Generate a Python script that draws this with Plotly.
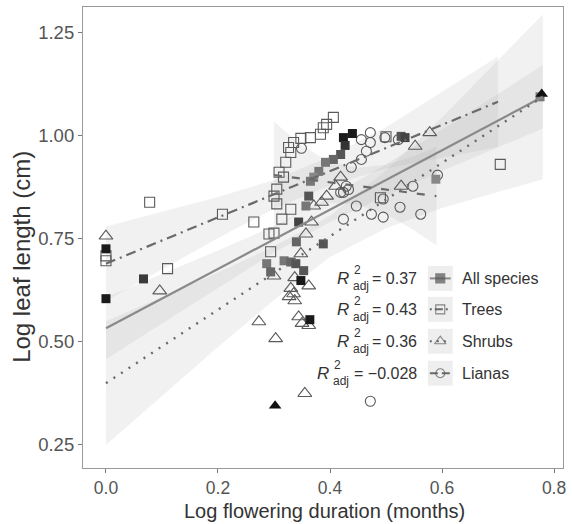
import plotly.graph_objects as go

# ---------------- data ----------------
trees_x = [0.0, 0.0, 0.078, 0.110, 0.208, 0.264, 0.294, 0.291, 0.300, 0.314, 0.330, 0.305,
           0.300, 0.305, 0.317, 0.309, 0.321, 0.330, 0.326, 0.335, 0.348, 0.365, 0.383,
           0.388, 0.394, 0.406, 0.500, 0.704, 0.490]
trees_y = [0.709, 0.697, 0.839, 0.678, 0.810, 0.791, 0.719, 0.762, 0.764, 0.798, 0.822, 0.835,
           0.854, 0.871, 0.900, 0.912, 0.936, 0.960, 0.972, 0.984, 0.994, 0.996, 1.004,
           1.020, 1.028, 1.045, 0.998, 0.931, 0.850]

shrubs_x = [0.0, 0.096, 0.273, 0.303, 0.355, 0.350, 0.344, 0.362, 0.330, 0.327, 0.337, 0.335,
            0.362, 0.337, 0.300, 0.348, 0.357, 0.367, 0.371, 0.385, 0.394, 0.410, 0.419,
            0.527, 0.552, 0.578]
shrubs_y = [0.757, 0.624, 0.549, 0.508, 0.375, 0.545, 0.561, 0.540, 0.630, 0.610, 0.600, 0.617,
            0.636, 0.656, 0.660, 0.714, 0.762, 0.791, 0.830, 0.839, 0.854, 0.878, 0.900,
            0.878, 0.975, 1.008]

lianas_x = [0.349, 0.472, 0.456, 0.472, 0.465, 0.456, 0.438, 0.429, 0.424, 0.419, 0.447, 0.424,
            0.474, 0.498, 0.522, 0.592, 0.548, 0.495, 0.525, 0.495, 0.562, 0.472, 0.433]
lianas_y = [0.970, 1.008, 0.991, 0.984, 0.963, 0.943, 0.924, 0.878, 0.863, 0.863, 0.830, 0.798,
            0.810, 0.996, 0.991, 0.905, 0.878, 0.847, 0.827, 0.803, 0.810, 0.356, 0.870]

filled_x = [0.0, 0.0, 0.067, 0.424, 0.440, 0.427, 0.419, 0.406, 0.392, 0.380, 0.371, 0.365,
            0.362, 0.357, 0.344, 0.340, 0.388, 0.318, 0.330, 0.339, 0.353, 0.287, 0.294,
            0.348, 0.364, 0.527, 0.534, 0.589, 0.775]
filled_y = [0.726, 0.605, 0.653, 0.996, 1.006, 0.977, 0.955, 0.943, 0.936, 0.914, 0.900, 0.890,
            0.854, 0.830, 0.791, 0.743, 0.738, 0.697, 0.694, 0.690, 0.673, 0.690, 0.670,
            0.649, 0.554, 0.999, 0.996, 0.895, 1.095]
filled_shade = ["#1a1a1a", "#1a1a1a", "#3a3a3a", "#1a1a1a", "#1a1a1a", "#333333", "#555555",
                "#666666", "#777777", "#777777", "#888888", "#777777", "#555555", "#777777",
                "#444444", "#666666", "#555555", "#777777", "#666666", "#555555", "#555555",
                "#777777", "#666666", "#1a1a1a", "#1a1a1a", "#555555", "#444444", "#888888",
                "#777777"]

black_tri_x = [0.302, 0.778]
black_tri_y = [0.345, 1.102]

# fitted lines (end points)
all_line_x, all_line_y = [0.0, 0.78], [0.533, 1.095]
trees_line_x, trees_line_y = [0.0, 0.70], [0.690, 1.083]
shrubs_line_x, shrubs_line_y = [0.0, 0.78], [0.400, 1.095]
lianas_line_x, lianas_line_y = [0.30, 0.59], [0.905, 0.854]

# confidence bands
all_band_x = [0.0, 0.1, 0.2, 0.3, 0.4, 0.5, 0.6, 0.7, 0.78]
all_band_lo = [0.458, 0.545, 0.632, 0.717, 0.791, 0.855, 0.915, 0.972, 1.018]
all_band_hi = [0.608, 0.665, 0.722, 0.781, 0.851, 0.931, 1.015, 1.102, 1.172]

trees_band_x = [0.0, 0.1, 0.2, 0.3, 0.4, 0.5, 0.6, 0.7]
trees_band_lo = [0.600, 0.676, 0.752, 0.823, 0.880, 0.921, 0.947, 0.973]
trees_band_hi = [0.780, 0.816, 0.852, 0.893, 0.950, 1.021, 1.107, 1.193]

shrubs_band_x = [0.0, 0.1, 0.2, 0.3, 0.4, 0.5, 0.6, 0.7, 0.78]
shrubs_band_lo = [0.250, 0.369, 0.488, 0.602, 0.706, 0.776, 0.825, 0.864, 0.895]
shrubs_band_hi = [0.550, 0.609, 0.668, 0.732, 0.806, 0.916, 1.045, 1.184, 1.295]

lianas_band_x = [0.30, 0.35, 0.40, 0.45, 0.50, 0.55, 0.59]
lianas_band_lo = [0.775, 0.816, 0.837, 0.833, 0.810, 0.771, 0.734]
lianas_band_hi = [1.035, 0.976, 0.937, 0.923, 0.930, 0.951, 0.974]

x_ticks = [0.0, 0.2, 0.4, 0.6, 0.8]
x_tick_text = ["0.0", "0.2", "0.4", "0.6", "0.8"]
y_ticks = [0.25, 0.50, 0.75, 1.00, 1.25]
y_tick_text = ["0.25", "0.50", "0.75", "1.00", "1.25"]

legend_names = ["All species", "Trees", "Shrubs", "Lianas"]
r2_values = ["= 0.37", "= 0.43", "= 0.36", "= \u22120.028"]

# ---------------- layout helpers ----------------
W, H = 572, 524
ML, MR, MT, MB = 83, 6, 6, 56
PW = W - ML - MR
PH = H - MT - MB


def px(xp):
    return (xp - ML) / PW


def py(yp):
    return (H - MB - yp) / PH


FONT = "Liberation Sans, Arial, sans-serif"
BAND = "rgba(160,160,160,0.15)"
fig = go.Figure()

# bands
for bx, lo, hi in [(all_band_x, all_band_lo, all_band_hi),
                   (trees_band_x, trees_band_lo, trees_band_hi),
                   (shrubs_band_x, shrubs_band_lo, shrubs_band_hi),
                   (lianas_band_x, lianas_band_lo, lianas_band_hi)]:
    fig.add_trace(go.Scatter(x=bx + bx[::-1], y=hi + lo[::-1], fill="toself",
                             fillcolor=BAND, line=dict(width=0), mode="lines",
                             hoverinfo="skip", showlegend=False))

# points
OUT = "#5a5a5a"
fig.add_trace(go.Scatter(x=trees_x, y=trees_y, mode="markers", showlegend=False,
                         marker=dict(symbol="square-open", size=10, color=OUT,
                                     line=dict(width=1.1, color=OUT))))
fig.add_trace(go.Scatter(x=shrubs_x, y=shrubs_y, mode="markers", showlegend=False,
                         marker=dict(symbol="triangle-up-open", size=12, color=OUT,
                                     line=dict(width=1.1, color=OUT))))
fig.add_trace(go.Scatter(x=lianas_x, y=lianas_y, mode="markers", showlegend=False,
                         marker=dict(symbol="circle-open", size=10, color=OUT,
                                     line=dict(width=1.1, color=OUT))))
fig.add_trace(go.Scatter(x=filled_x, y=filled_y, mode="markers", showlegend=False,
                         marker=dict(symbol="square", size=9, color=filled_shade,
                                     line=dict(width=0))))
fig.add_trace(go.Scatter(x=black_tri_x, y=black_tri_y, mode="markers", showlegend=False,
                         marker=dict(symbol="triangle-up", size=11, color="#111111",
                                     line=dict(width=0))))

# fitted lines
LINE_STYLES = [
    (all_line_x, all_line_y, "#8a8a8a", "solid", 2.2),
    (trees_line_x, trees_line_y, "#6a6a6a", "10px,5px,2px,5px", 2.2),
    (shrubs_line_x, shrubs_line_y, "#6a6a6a", "2px,7px", 2.4),
    (lianas_line_x, lianas_line_y, "#6a6a6a", "8px,10px", 2.2),
]
for lx, ly, c, d, w in LINE_STYLES:
    fig.add_trace(go.Scatter(x=lx, y=ly, mode="lines", showlegend=False,
                             line=dict(color=c, dash=d, width=w), hoverinfo="skip"))

# ---------------- custom legend ----------------
row_y = [278, 309, 341, 373]
key_l, key_r = 430, 455
key_symbols = ["square", "square-open", "triangle-up-open", "circle-open"]
key_sizes = [9, 9, 10, 9]
key_dash = ["solid", "2px,3px,8px,3px", "2px,5px", "8px,4px"]
shapes = []
annos = []
for i, name in enumerate(legend_names):
    yc = row_y[i]
    shapes.append(dict(type="rect", xref="paper", yref="paper",
                       x0=px(key_l), x1=px(key_r), y0=py(yc + 12.5), y1=py(yc - 12.5),
                       fillcolor="#eeeeee", line=dict(width=0), layer="below"))
    c = LINE_STYLES[i][2]
    shapes.append(dict(type="line", xref="paper", yref="paper",
                       x0=px(key_l + 2), x1=px(key_r - 2), y0=py(yc), y1=py(yc),
                       line=dict(color=c, dash=key_dash[i], width=2), layer="below"))
    annos.append(dict(x=px(462), y=py(yc), xref="paper", yref="paper",
                      text=name, showarrow=False, xanchor="left", yanchor="middle",
                      font=dict(size=16, color="#333333", family=FONT)))
    annos.append(dict(x=px(421), y=py(yc), xref="paper", yref="paper",
                      text=r2_values[i], showarrow=False, xanchor="right", yanchor="middle",
                      font=dict(size=16, color="#333333", family=FONT)))
    r_right = 353 if i < 3 else 333
    annos.append(dict(x=px(r_right), y=py(yc), xref="paper", yref="paper",
                      text="<i>R</i>", showarrow=False, xanchor="right", yanchor="middle",
                      font=dict(size=17, color="#333333", family=FONT)))
    annos.append(dict(x=px(r_right + 1), y=py(yc - 8), xref="paper", yref="paper",
                      text="2", showarrow=False, xanchor="left", yanchor="middle",
                      font=dict(size=12, color="#333333", family=FONT)))
    annos.append(dict(x=px(r_right), y=py(yc + 8), xref="paper", yref="paper",
                      text="adj", showarrow=False, xanchor="left", yanchor="middle",
                      font=dict(size=12, color="#333333", family=FONT)))

# key markers on an overlay axis spanning the plot area in paper units
fig.add_trace(go.Scatter(x=[px((key_l + key_r) / 2)] * 4, y=[py(v) for v in row_y],
                         xaxis="x2", yaxis="y2", mode="markers", showlegend=False,
                         hoverinfo="skip",
                         marker=dict(symbol=key_symbols, size=key_sizes,
                                     color="#555555",
                                     line=dict(width=1.1, color="#555555"))))

# axis titles
annos.append(dict(x=px(326), y=py(511), xref="paper", yref="paper",
                  text="Log flowering duration (months)", showarrow=False,
                  xanchor="center", yanchor="middle",
                  font=dict(size=20, color="#333333", family=FONT)))
annos.append(dict(x=px(21), y=py(256), xref="paper", yref="paper",
                  text="Log leaf length (cm)", showarrow=False, textangle=-90,
                  xanchor="center", yanchor="middle",
                  font=dict(size=24, color="#333333", family=FONT)))

fig.update_layout(
    width=W, height=H,
    margin=dict(l=ML, r=MR, t=MT, b=MB),
    paper_bgcolor="white", plot_bgcolor="white",
    showlegend=False,
    shapes=shapes, annotations=annos,
    xaxis=dict(range=[-0.041, 0.816], tickvals=x_ticks, ticktext=x_tick_text,
               showgrid=False, zeroline=False, showline=True, mirror=True,
               linecolor="#999999", linewidth=1.2, ticks="outside", ticklen=4,
               tickcolor="#777777", tickfont=dict(size=17.5, color="#555555", family=FONT)),
    yaxis=dict(range=[0.194, 1.313], tickvals=y_ticks, ticktext=y_tick_text,
               showgrid=False, zeroline=False, showline=True, mirror=True,
               linecolor="#999999", linewidth=1.2, ticks="outside", ticklen=4,
               tickcolor="#777777", tickfont=dict(size=18.5, color="#555555", family=FONT)),
    xaxis2=dict(overlaying="x", range=[0, 1], visible=False, anchor="y2"),
    yaxis2=dict(overlaying="y", range=[0, 1], visible=False, anchor="x2"),
)

fig.write_html("out.html")
